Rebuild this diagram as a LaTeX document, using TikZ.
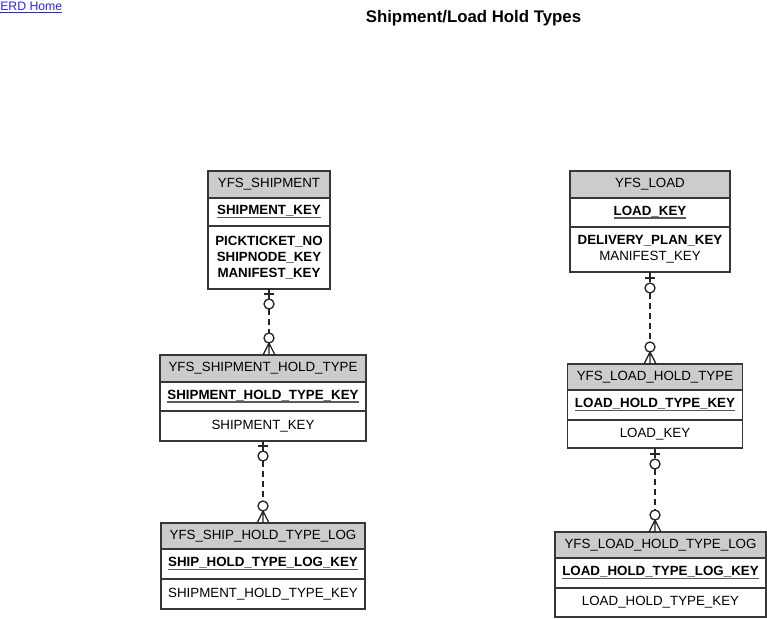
\documentclass[tikz,border=0pt]{standalone}
\usepackage{fontspec}
\setmainfont{Liberation Sans}
\usepackage{tikz}
\usetikzlibrary{positioning}
\usetikzlibrary{calc}
\definecolor{linkblue}{RGB}{40,40,235}
\definecolor{keygray}{RGB}{90,90,90}
\definecolor{boxline}{RGB}{55,55,55}
\definecolor{headgray}{RGB}{204,204,204}
\newcommand{\pkey}[1]{\setbox0\hbox{\bfseries #1}\rlap{\color{keygray}\rule[-2.6pt]{\wd0}{1.3pt}}\box0}

\begin{document}
\begin{tikzpicture}
[
x=0.75pt, y=-0.75pt,
head/.style={rectangle, draw=boxline, fill=headgray, line width=0.9pt, outer sep=0, anchor=north, font=\fontsize{10}{12}\selectfont},
row/.style={rectangle, draw=boxline, fill=white, line width=0.9pt, outer sep=0, align=center, font=\fontsize{10}{12}\selectfont},
rel/.style={draw=black!85, line width=1pt},
dashes/.style={rel, dash pattern=on 4.5pt off 3pt},
]
\useasboundingbox (0,0) rectangle (767,618);
\node (home)  [anchor=north west, inner sep=0, text=linkblue, font=\fontsize{9.2}{11}\selectfont] at (0,2) {\underline{ERD Home}};
\node (title) [font=\fontsize{12.6}{15}\selectfont\bfseries] at (473.5,18) {Shipment/Load Hold Types};
% shipment side
\node (shp)   [head, minimum width=91.5pt, minimum height=20.25pt] at (269,171) {YFS\_SHIPMENT};
\node (shpk)  [row, minimum width=91.5pt, minimum height=21pt, below = 00.00mm of shp]    {\pkey{SHIPMENT\_KEY}};
\node (shpa)  [row, minimum width=91.5pt, minimum height=47.25pt, below = 00.00mm of shpk] {\textbf{PICKTICKET\_NO}\\ \textbf{SHIPNODE\_KEY}\\ \textbf{MANIFEST\_KEY}};
\node (sht)   [head, minimum width=154.5pt, minimum height=20.25pt] at (263,355) {YFS\_SHIPMENT\_HOLD\_TYPE};
\node (shtk)  [row, minimum width=154.5pt, minimum height=21.75pt, below = 00.00mm of sht]  {\pkey{SHIPMENT\_HOLD\_TYPE\_KEY}};
\node (shta)  [row, minimum width=154.5pt, minimum height=22.5pt, below = 00.00mm of shtk]  {SHIPMENT\_KEY};
\node (shl)   [head, minimum width=153pt, minimum height=19.5pt] at (263,523) {YFS\_SHIP\_HOLD\_TYPE\_LOG};
\node (shlk)  [row, minimum width=153pt, minimum height=22.5pt, below = 00.00mm of shl]    {\pkey{SHIP\_HOLD\_TYPE\_LOG\_KEY}};
\node (shla)  [row, minimum width=153pt, minimum height=22.5pt, below = 00.00mm of shlk]   {SHIPMENT\_HOLD\_TYPE\_KEY};
% load side
\node (ld)    [head, minimum width=120pt, minimum height=20.25pt] at (650,171) {YFS\_LOAD};
\node (ldk)   [row, minimum width=120pt, minimum height=21.75pt, below = 00.00mm of ld]    {\pkey{LOAD\_KEY}};
\node (lda)   [row, minimum width=120pt, minimum height=33.75pt, below = 00.00mm of ldk]   {\textbf{DELIVERY\_PLAN\_KEY}\\ MANIFEST\_KEY};
\node (lht)   [head, minimum width=131.25pt, minimum height=19.5pt] at (655,364) {YFS\_LOAD\_HOLD\_TYPE};
\node (lhtk)  [row, minimum width=131.25pt, minimum height=22.5pt, below = 00.00mm of lht]  {\pkey{LOAD\_HOLD\_TYPE\_KEY}};
\node (lhta)  [row, minimum width=131.25pt, minimum height=21pt, below = 00.00mm of lhtk]   {LOAD\_KEY};
\node (lhl)   [head, minimum width=158.25pt, minimum height=19.5pt] at (660.5,532) {YFS\_LOAD\_HOLD\_TYPE\_LOG};
\node (lhlk)  [row, minimum width=158.25pt, minimum height=22.5pt, below = 00.00mm of lhl]  {\pkey{LOAD\_HOLD\_TYPE\_LOG\_KEY}};
\node (lhla)  [row, minimum width=158.25pt, minimum height=21.75pt, below = 00.00mm of lhlk] {LOAD\_HOLD\_TYPE\_KEY};
% child ends of the relations
\coordinate (c1) at (shpa.south |- sht.north);
\coordinate (c2) at (shta.south |- shl.north);
\coordinate (c3) at (lda.south |- lht.north);
\coordinate (c4) at (lhta.south |- lhl.north);
% shipment -> shipment hold type
\draw [rel]    (shpa.south) -- ++(0,10);
\draw [rel]    ($(shpa.south)+(-5,5)$) -- ++(10,0);
\draw [rel]    ($(shpa.south)+(0,15)$) circle (5);
\draw [dashes] ($(shpa.south)+(0,20)$) -- ($(c1)+(0,-22)$);
\draw [rel]    ($(c1)+(0,-17)$) circle (5);
\draw [rel]    ($(c1)+(-6,0)$) -- ($(c1)+(0,-12)$) -- ($(c1)+(6,0)$) ($(c1)+(0,-12)$) -- (c1);
% shipment hold type -> log
\draw [rel]    (shta.south) -- ++(0,10);
\draw [rel]    ($(shta.south)+(-5,5)$) -- ++(10,0);
\draw [rel]    ($(shta.south)+(0,15)$) circle (5);
\draw [dashes] ($(shta.south)+(0,20)$) -- ($(c2)+(0,-22)$);
\draw [rel]    ($(c2)+(0,-17)$) circle (5);
\draw [rel]    ($(c2)+(-6,0)$) -- ($(c2)+(0,-12)$) -- ($(c2)+(6,0)$) ($(c2)+(0,-12)$) -- (c2);
% load -> load hold type
\draw [rel]    (lda.south) -- ++(0,10);
\draw [rel]    ($(lda.south)+(-5,6)$) -- ++(10,0);
\draw [rel]    ($(lda.south)+(0,16)$) circle (5);
\draw [dashes] ($(lda.south)+(0,21)$) -- ($(c3)+(0,-22)$);
\draw [rel]    ($(c3)+(0,-17)$) circle (5);
\draw [rel]    ($(c3)+(-6,0)$) -- ($(c3)+(0,-12)$) -- ($(c3)+(6,0)$) ($(c3)+(0,-12)$) -- (c3);
% load hold type -> log
\draw [rel]    (lhta.south) -- ++(0,10);
\draw [rel]    ($(lhta.south)+(-5,6)$) -- ++(10,0);
\draw [rel]    ($(lhta.south)+(0,16)$) circle (5);
\draw [dashes] ($(lhta.south)+(0,21)$) -- ($(c4)+(0,-22)$);
\draw [rel]    ($(c4)+(0,-17)$) circle (5);
\draw [rel]    ($(c4)+(-6,0)$) -- ($(c4)+(0,-12)$) -- ($(c4)+(6,0)$) ($(c4)+(0,-12)$) -- (c4);
\end{tikzpicture}
\end{document}
